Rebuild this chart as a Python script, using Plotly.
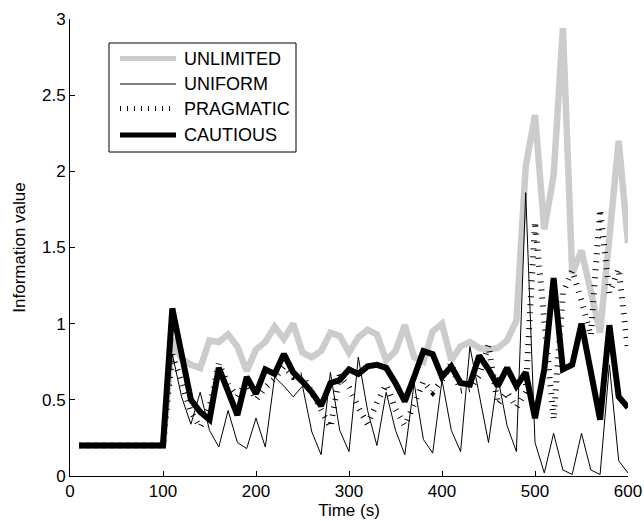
import plotly.graph_objects as go

time_s = [10, 20, 30, 40, 50, 60, 70, 80, 90, 100,
          110, 120, 130, 140, 150, 160, 170, 180, 190, 200,
          210, 220, 230, 240, 250, 260, 270, 280, 290, 300,
          310, 320, 330, 340, 350, 360, 370, 380, 390, 400,
          410, 420, 430, 440, 450, 460, 470, 480, 490, 500,
          510, 520, 530, 540, 550, 560, 570, 580, 590, 600]

unlimited = [0.2, 0.2, 0.2, 0.2, 0.2, 0.2, 0.2, 0.2, 0.2, 0.2,
             0.9, 0.77, 0.73, 0.71, 0.89, 0.88, 0.93, 0.85, 0.69, 0.83,
             0.88, 0.98, 0.90, 1.0, 0.81, 0.78, 0.82, 0.94, 0.92, 0.81,
             0.91, 0.96, 0.93, 0.76, 0.82, 0.99, 0.78, 0.75, 0.95, 1.0,
             0.76, 0.85, 0.88, 0.84, 0.83, 0.84, 0.89, 1.02, 2.03, 2.37,
             1.62, 1.97, 2.94, 1.33, 1.48, 1.2, 0.94, 1.57, 2.2, 1.53]

uniform = [0.2, 0.2, 0.2, 0.2, 0.2, 0.2, 0.2, 0.2, 0.2, 0.2,
           0.8, 0.52, 0.34, 0.55, 0.3, 0.19, 0.43, 0.22, 0.18, 0.38,
           0.19, 0.65, 0.59, 0.52, 0.59, 0.29, 0.14, 0.68, 0.3, 0.16,
           0.78, 0.43, 0.2, 0.55, 0.3, 0.14, 0.61, 0.24, 0.15, 0.63,
           0.3, 0.16, 0.85, 0.54, 0.22, 0.65, 0.33, 0.16, 1.86, 0.22,
           0.02, 0.28, 0.04, 0.01, 0.28, 0.04, 0.01, 0.73, 0.1, 0.02]

pragmatic = [0.2, 0.2, 0.2, 0.2, 0.2, 0.2, 0.2, 0.2, 0.2, 0.2,
             0.8, 0.6, 0.42, 0.32, 0.45, 0.74, 0.6, 0.52, 0.62, 0.5,
             0.58, 0.64, 0.72, 0.65, 0.66, 0.55, 0.43, 0.32, 0.66, 0.58,
             0.45, 0.34, 0.48, 0.60, 0.44, 0.33, 0.47, 0.62, 0.55, 0.63,
             0.74, 0.56, 0.57, 0.66, 0.86, 0.47, 0.55, 0.45, 0.55, 1.67,
             1.02, 0.37, 1.2, 1.35, 1.15, 0.92, 1.75, 1.2, 1.36, 0.82]

cautious = [0.2, 0.2, 0.2, 0.2, 0.2, 0.2, 0.2, 0.2, 0.2, 0.2,
            1.1, 0.8, 0.5, 0.42, 0.37, 0.71, 0.55, 0.4, 0.65, 0.54,
            0.70, 0.67, 0.80, 0.68, 0.62, 0.55, 0.46, 0.61, 0.63, 0.70,
            0.67, 0.72, 0.73, 0.71, 0.61, 0.49, 0.65, 0.82, 0.80, 0.65,
            0.72, 0.61, 0.60, 0.79, 0.70, 0.59, 0.71, 0.59, 0.68, 0.38,
            0.70, 1.30, 0.70, 0.73, 1.0, 0.68, 0.37, 0.99, 0.52, 0.45]

series_names = ["UNLIMITED", "UNIFORM", "PRAGMATIC", "CAUTIOUS"]
x_ticks = [0, 100, 200, 300, 400, 500, 600]
y_ticks = [0, 0.5, 1, 1.5, 2, 2.5, 3]
y_tick_labels = ["0", "0.5", "1", "1.5", "2", "2.5", "3"]

styles = {
    "UNLIMITED": dict(color="#cccccc", width=6.5, dash="solid"),
    "UNIFORM": dict(color="black", width=1, dash="solid"),
    "PRAGMATIC": dict(color="black", width=6, dash="1px,7px"),
    "CAUTIOUS": dict(color="black", width=6, dash="solid"),
}
values = {"UNLIMITED": unlimited, "UNIFORM": uniform,
          "PRAGMATIC": pragmatic, "CAUTIOUS": cautious}

fig = go.Figure()
for name in series_names:
    fig.add_trace(go.Scatter(x=time_s, y=values[name], mode="lines", name=name,
                             line=dict(**styles[name], shape="linear"),
                             showlegend=False))

W, H = 644, 521
L, R, T, B = 70, 16, 19, 45
pw, ph = W - L - R, H - T - B


def px_x(p):
    return (p - L) / pw


def px_y(p):
    return (H - B - p) / ph


shapes = [dict(type="rect", xref="paper", yref="paper",
               x0=px_x(109), x1=px_x(296), y0=px_y(152), y1=px_y(43),
               line=dict(color="black", width=1), fillcolor="white", layer="above")]
annotations = []
rows = [58.5, 84, 108.5, 135]
legend_styles = {
    "UNLIMITED": dict(color="#cccccc", width=5, dash="solid"),
    "UNIFORM": dict(color="black", width=1, dash="solid"),
    "PRAGMATIC": dict(color="black", width=5, dash="1px,6px"),
    "CAUTIOUS": dict(color="black", width=5, dash="solid"),
}
for name, ry in zip(series_names, rows):
    shapes.append(dict(type="line", xref="paper", yref="paper",
                       x0=px_x(120), x1=px_x(176), y0=px_y(ry), y1=px_y(ry),
                       line=legend_styles[name], layer="above"))
    annotations.append(dict(text=name, xref="paper", yref="paper",
                            x=px_x(182), y=px_y(ry), xanchor="left", yanchor="middle",
                            showarrow=False, font=dict(size=18, color="black")))

fig.update_layout(
    width=W, height=H,
    margin=dict(l=L, r=R, t=T, b=B, autoexpand=False),
    paper_bgcolor="white", plot_bgcolor="white",
    font=dict(family="Liberation Sans, Arial, sans-serif", size=17, color="black"),
    showlegend=False,
    shapes=shapes, annotations=annotations,
    xaxis=dict(range=[0, 600], tickvals=x_ticks, ticks="inside", ticklen=5,
               tickcolor="black", showline=True, linecolor="black", linewidth=1,
               showgrid=False, zeroline=False, automargin=False,
               title=dict(text="Time (s)", standoff=0, font=dict(size=17))),
    yaxis=dict(range=[0, 3], tickvals=y_ticks, ticktext=y_tick_labels,
               ticks="inside", ticklen=5, tickcolor="black", showline=True,
               linecolor="black", linewidth=1, showgrid=False, zeroline=False,
               automargin=False,
               title=dict(text="Information value", standoff=12, font=dict(size=17))),
)

fig.write_html("out.html",
               config={"displayModeBar": False, "staticPlot": True},
               post_script="document.body.style.margin='0px';document.body.style.overflow='hidden';")
